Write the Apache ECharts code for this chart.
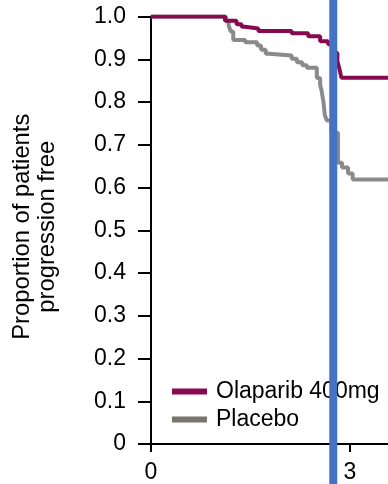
<!DOCTYPE html>
<html>
<head>
<meta charset="utf-8">
<script src="https://cdn.jsdelivr.net/npm/echarts@6/dist/echarts.min.js"></script>
<style>
  html, body { margin: 0; padding: 0; background: #fff; }
  #chart { width: 388px; height: 484px; }
</style>
</head>
<body>
<div id="chart"></div>
<script>
// Kaplan–Meier progression-free curves (time in years, proportion progression free)
const olaparibTime = [0, 1.116, 1.29, 1.367, 1.417, 1.618, 2.12, 2.37, 2.55, 2.67, 2.76, 2.81, 2.84, 2.87, 3.573];
const olaparibSurv = [1.0, 0.990, 0.982, 0.976, 0.972, 0.966, 0.961, 0.954, 0.942, 0.935, 0.915, 0.895, 0.878, 0.857, 0.857];

const placeboTime = [0, 1.13, 1.17, 1.20, 1.24, 1.42, 1.60, 1.66, 1.73, 1.78, 2.12, 2.20, 2.28, 2.35, 2.50, 2.55, 2.57, 2.60, 2.62, 2.65, 2.72, 2.82, 2.88, 2.97, 3.04, 3.573];
const placeboSurv = [1.0, 0.990, 0.980, 0.965, 0.945, 0.940, 0.932, 0.922, 0.913, 0.909, 0.901, 0.893, 0.886, 0.880, 0.856, 0.840, 0.828, 0.800, 0.770, 0.757, 0.728, 0.658, 0.647, 0.633, 0.619, 0.619];

const seriesNames = ['Olaparib 400mg', 'Placebo'];
const xTickValues = [0, 3];
const xMax = 3.573;
const cutoffTime = 2.748;

const FONT = '"Liberation Sans", Arial, Helvetica, sans-serif';
const PURPLE = '#870a50';
const GREY = '#8a8a8a';

const zip = (xs, ys) => xs.map((x, i) => [x, ys[i]]);

const chart = echarts.init(document.getElementById('chart'), null, { renderer: 'canvas' });

chart.setOption({
  animation: false,
  backgroundColor: '#fff',
  textStyle: { fontFamily: FONT },
  grid: [
    { left: 151, right: 0, top: 16.5, bottom: 38.5, containLabel: false },
    { left: 151, right: 0, top: 0, bottom: 0, containLabel: false }
  ],
  legend: {
    left: 167,
    top: 375,
    orient: 'vertical',
    itemGap: 5,
    itemWidth: 35,
    itemHeight: 6,
    icon: 'rect',
    textStyle: { fontFamily: FONT, fontSize: 23, color: '#000', padding: [0, 0, 0, 4] },
    data: [
      { name: seriesNames[0], itemStyle: { color: PURPLE } },
      { name: seriesNames[1], itemStyle: { color: '#78756a' } }
    ]
  },
  xAxis: [
    {
      type: 'value', gridIndex: 0, min: 0, max: xMax, interval: 3,
      splitLine: { show: false },
      axisLine: { show: true, lineStyle: { color: '#000', width: 2 } },
      axisTick: { show: true, length: 8, customValues: xTickValues, lineStyle: { color: '#000', width: 2 } },
      axisLabel: { customValues: xTickValues, margin: 17, fontSize: 23, color: '#000', fontFamily: FONT }
    },
    { type: 'value', gridIndex: 1, min: 0, max: xMax, show: false }
  ],
  yAxis: [
    {
      type: 'value', gridIndex: 0, min: 0, max: 1, interval: 0.1,
      splitLine: { show: false },
      axisLine: { show: true, lineStyle: { color: '#000', width: 2 } },
      axisTick: { show: true, length: 13, lineStyle: { color: '#000', width: 2 } },
      axisLabel: {
        margin: 25, fontSize: 23, color: '#000', fontFamily: FONT,
        formatter: v => (Math.abs(v) < 1e-9 ? '0' : v.toFixed(1))
      },
      name: 'Proportion of patients\nprogression free',
      nameLocation: 'middle',
      nameGap: 91,
      nameTextStyle: { fontSize: 23.8, color: '#000', fontFamily: FONT, lineHeight: 25, padding: [0, 0, 0, 7] }
    },
    { type: 'value', gridIndex: 1, min: 0, max: 1, show: false }
  ],
  series: [
    {
      name: seriesNames[1], type: 'line', step: 'end', xAxisIndex: 0, yAxisIndex: 0,
      data: zip(placeboTime, placeboSurv), symbol: 'none', z: 2,
      lineStyle: { color: GREY, width: 4 }, itemStyle: { color: GREY }
    },
    {
      name: seriesNames[0], type: 'line', step: 'end', xAxisIndex: 0, yAxisIndex: 0,
      data: zip(olaparibTime, olaparibSurv), symbol: 'none', z: 3,
      lineStyle: { color: PURPLE, width: 4 }, itemStyle: { color: PURPLE }
    },
    {
      // full-height vertical cut-off marker
      name: 'cutoff', type: 'line', xAxisIndex: 1, yAxisIndex: 1,
      data: [[cutoffTime, 0], [cutoffTime, 1]], symbol: 'none', z: 10,
      lineStyle: { color: '#4472c4', width: 8 }, silent: true
    }
  ]
});
</script>
</body>
</html>
